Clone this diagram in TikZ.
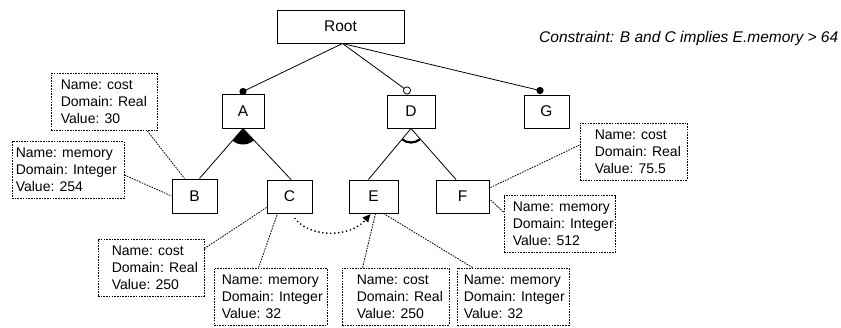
\documentclass[tikz,border=0pt]{standalone}
\usepackage{fontspec}
\setmainfont{Liberation Sans}
\usetikzlibrary{calc,arrows.meta}

\begin{document}
\begin{tikzpicture}[x=1pt,y=-1pt,
  feat/.style={draw, line width=1pt, minimum height=33pt, inner sep=0pt,
    font=\fontsize{15.5}{18}\selectfont},
  edge/.style={line width=0.8pt},
  notebox/.style={draw, line width=0.8pt, dash pattern=on 1.6pt off 1.1pt,
    minimum height=57pt, inner sep=0pt},
  notetext/.style={anchor=west, align=left, inner sep=0pt,
    font=\fontsize{14}{17}\selectfont},
  noteline/.style={line width=0.8pt, dash pattern=on 1.6pt off 1.1pt},
  requires/.style={line width=1.9pt, dash pattern=on 0pt off 4pt, line cap=round,
    -{Triangle[length=8pt,width=7pt]}}
]
\fill[white] (0,0) rectangle (841,327);
\useasboundingbox (0,0) rectangle (841,327);

% feature boxes
\node[feat, minimum width=127pt] (Root) at (340.5,26.5) {Root};
\node[feat, minimum width=42pt, minimum height=34pt] (A) at (243,111) {A};
\node[feat, minimum width=48pt] (D) at (411,111.5) {D};
\node[feat, minimum width=45pt] (G) at (546.5,111.5) {G};
\node[feat, minimum width=45pt, minimum height=34pt] (B) at (194.5,196) {B};
\node[feat, minimum width=45pt] (C) at (289.5,196.5) {C};
\node[feat, minimum width=49pt] (E) at (373.5,196.5) {E};
\node[feat, minimum width=53pt] (F) at (462.5,196.5) {F};

% constraint
\node[anchor=base west, inner sep=0pt, font=\itshape\fontsize{15.5}{18}\selectfont]
  (cons) at (539,42.5) {Constraint: B and C implies E.memory > 64};

% root decomposition: mandatory / optional markers
\coordinate (Atop) at ($(A.north)+(0,-2)$);
\coordinate (Dtop) at ($(D.north)+(-4,-4)$);
\coordinate (Gtop) at ($(G.north)+(-6.5,-4)$);
\coordinate (Rbot) at ($(Root.south)+(2,0)$);
\draw[edge] (Rbot) -- (Atop);
\draw[edge] (Rbot) -- (Dtop);
\draw[edge] (Rbot) -- (Gtop);
\fill (Atop) circle[radius=3.6pt];
\draw[line width=0.8pt, fill=white] (Dtop) circle[radius=3.6pt];
\fill (Gtop) circle[radius=3.6pt];

% A: or-group (filled), D: alternative group (open arc)
\draw[edge] (A.south) -- ($(B.north)+(5,0)$);
\draw[edge] (A.south) -- ($(C.north)+(1.5,0)$);
\fill (A.south) -- ++(47.3:16) arc[start angle=47.3, end angle=130.5, radius=16] -- cycle;

\draw[edge] (D.south) -- ($(E.north)+(-5,0)$);
\draw[edge] (D.south) -- ($(F.north)+(-6.5,0)$);
\draw[line width=2.2pt] ($(D.south)+(49.1:14)$) arc[start angle=49.1, end angle=129.3, radius=14];

% attribute boxes
\node[notebox, minimum width=106pt] (bcost) at (104,102) {};
\node[notetext] (bcostT) at ([xshift=10pt]bcost.west) {Name: cost\\Domain: Real\\Value: 30};
\node[notebox, minimum width=112pt] (bmem) at (68,170) {};
\node[notetext] (bmemT) at ([xshift=4pt]bmem.west) {Name: memory\\Domain: Integer\\Value: 254};

\node[notebox, minimum width=106pt] (ccost) at (151,267.5) {};
\node[notetext] (ccostT) at ([xshift=14pt]ccost.west) {Name: cost\\Domain: Real\\Value: 250};
\node[notebox, minimum width=113pt] (cmem) at (270.5,296.5) {};
\node[notetext] (cmemT) at ([xshift=8pt]cmem.west) {Name: memory\\Domain: Integer\\Value: 32};

\node[notebox, minimum width=107pt] (ecost) at (395.5,296.5) {};
\node[notetext] (ecostT) at ([xshift=15pt]ecost.west) {Name: cost\\Domain: Real\\Value: 250};
\node[notebox, minimum width=112pt] (emem) at (513,296.5) {};
\node[notetext] (ememT) at ([xshift=7pt]emem.west) {Name: memory\\Domain: Integer\\Value: 32};

\node[notebox, minimum width=107pt] (fcost) at (633.5,151.5) {};
\node[notetext] (fcostT) at ([xshift=15pt]fcost.west) {Name: cost\\Domain: Real\\Value: 75.5};
\node[notebox, minimum width=111pt] (fmem) at (559.5,224) {};
\node[notetext] (fmemT) at ([xshift=9pt]fmem.west) {Name: memory\\Domain: Integer\\Value: 512};

% attribute links
\draw[noteline] ($(bcost.south east)+(-10,0)$) -- ($(B.north west)+(13,0)$);
\draw[noteline] ($(bmem.east)+(0,5)$) -- (B.west);
\draw[noteline] ($(ccost.north east)+(0,10)$) -- ($(C.south west)+(0,-6)$);
\draw[noteline] ($(cmem.north west)+(45,0)$) -- ($(C.south west)+(11,0)$);
\draw[noteline] ($(ecost.north west)+(21,0)$) -- ($(E.south west)+(27,0)$);
\draw[noteline] ($(emem.north west)+(16,0)$) -- ($(E.south west)+(35,0)$);
\draw[noteline] ($(fcost.west)+(0,-6.5)$) -- ($(F.east)+(0,-8.5)$);
\draw[noteline] ($(fmem.north west)+(0,17)$) -- ($(F.east)+(0,2.5)$);

% requires relation C -> E
\draw[requires] ($(C.south)+(5.5,5)$) .. controls (310,238) and (350,238) .. ($(E.south)+(-3,0.5)$);
\end{tikzpicture}
\end{document}
